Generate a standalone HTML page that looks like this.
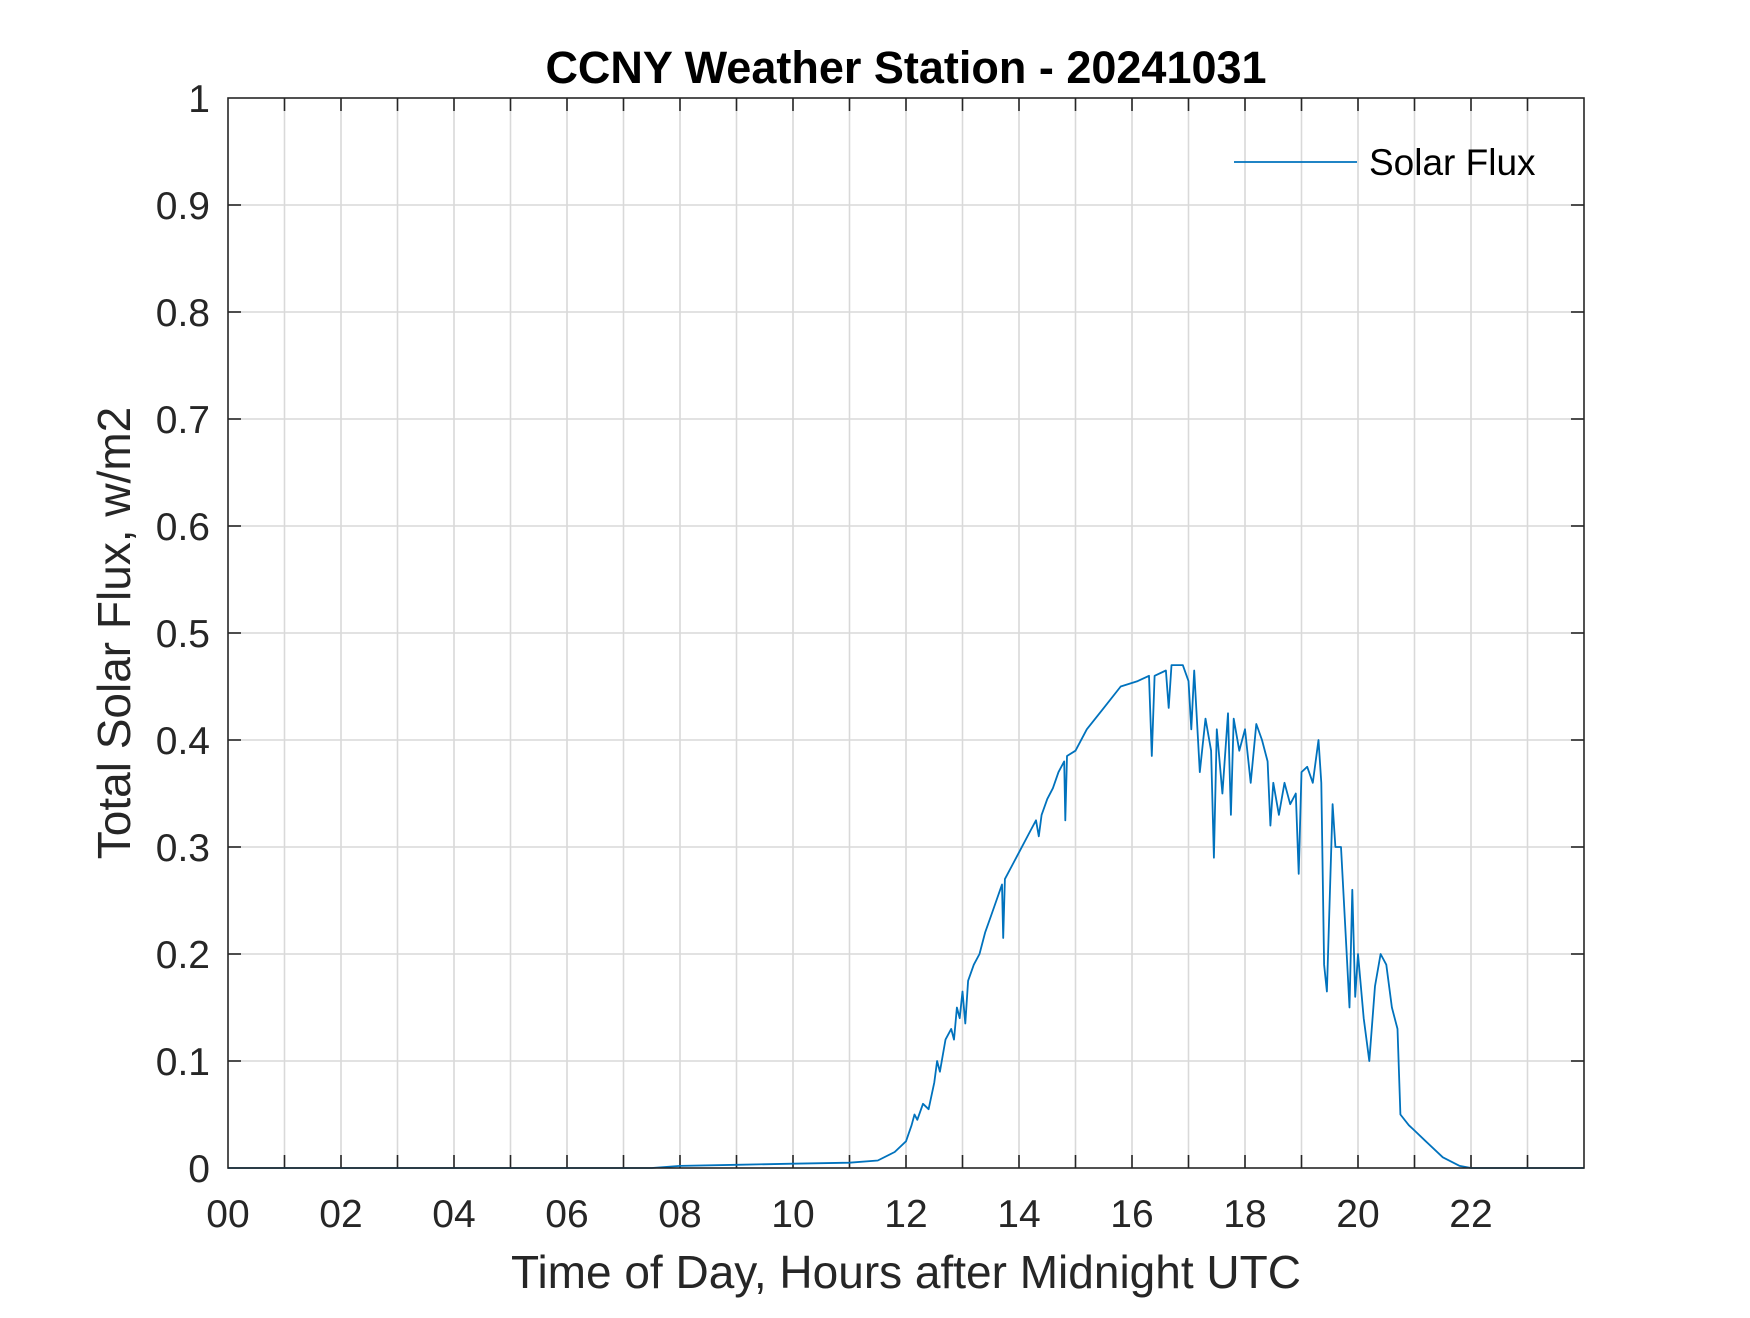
<!DOCTYPE html>
<html><head><meta charset="utf-8"><style>
html,body{margin:0;padding:0;background:#fff;}
svg text{font-family:"Liberation Sans",Arial,sans-serif;fill:#262626;}
</style></head><body>
<svg id="chart" width="1750" height="1313" viewBox="0 0 1750 1313" xmlns="http://www.w3.org/2000/svg">
<rect width="1750" height="1313" fill="#fff"/>
<g id="grid"></g>
<g id="ticks"></g>
<path id="series" fill="none" stroke="#0072BD" stroke-width="1.8" stroke-linejoin="round"/>
<rect x="228" y="98" width="1356" height="1070" fill="none" stroke="#262626" stroke-width="1.6"/>
<text x="906" y="83" text-anchor="middle" font-size="45" font-weight="bold" style="fill:#000">CCNY Weather Station - 20241031</text>
<text x="906" y="1288" text-anchor="middle" font-size="46">Time of Day, Hours after Midnight UTC</text>
<text transform="translate(130,633) rotate(-90)" text-anchor="middle" font-size="46">Total Solar Flux, w/m2</text>
<g>
<line x1="1234" y1="162" x2="1357" y2="162" stroke="#0072BD" stroke-width="1.8"/>
<text x="1369" y="175" font-size="37" style="fill:#000">Solar Flux</text>
</g>
</svg>
<script>
const hours = [0,7.5,8,9,10,11,11.5,11.8,12.0,12.1,12.15,12.2,12.3,12.4,12.5,12.55,12.6,12.7,12.8,12.85,12.9,12.95,13.0,13.05,13.1,13.2,13.3,13.4,13.5,13.6,13.7,13.72,13.75,13.9,14.0,14.2,14.3,14.35,14.4,14.5,14.6,14.7,14.8,14.82,14.85,15.0,15.2,15.5,15.8,16.1,16.3,16.35,16.4,16.6,16.65,16.7,16.9,17.0,17.05,17.1,17.2,17.3,17.4,17.45,17.5,17.6,17.7,17.75,17.8,17.9,18.0,18.1,18.2,18.3,18.4,18.45,18.5,18.6,18.7,18.8,18.9,18.95,19.0,19.1,19.2,19.3,19.35,19.4,19.45,19.55,19.6,19.7,19.8,19.85,19.9,19.95,20.0,20.1,20.2,20.3,20.4,20.5,20.6,20.7,20.75,20.9,21.0,21.2,21.5,21.8,22.0,24];
const flux = [0,0,0.002,0.003,0.004,0.005,0.007,0.015,0.025,0.04,0.05,0.045,0.06,0.055,0.08,0.1,0.09,0.12,0.13,0.12,0.15,0.14,0.165,0.135,0.175,0.19,0.2,0.22,0.235,0.25,0.265,0.215,0.27,0.285,0.295,0.315,0.325,0.31,0.33,0.345,0.355,0.37,0.38,0.325,0.385,0.39,0.41,0.43,0.45,0.455,0.46,0.385,0.46,0.465,0.43,0.47,0.47,0.455,0.41,0.465,0.37,0.42,0.39,0.29,0.41,0.35,0.425,0.33,0.42,0.39,0.41,0.36,0.415,0.4,0.38,0.32,0.36,0.33,0.36,0.34,0.35,0.275,0.37,0.375,0.36,0.4,0.36,0.19,0.165,0.34,0.3,0.3,0.2,0.15,0.26,0.16,0.2,0.14,0.1,0.17,0.2,0.19,0.15,0.13,0.05,0.04,0.035,0.025,0.01,0.002,0,0];
const xTickLabels = ["00","02","04","06","08","10","12","14","16","18","20","22"];
const yTickLabels = ["0","0.1","0.2","0.3","0.4","0.5","0.6","0.7","0.8","0.9","1"];
const X0=228,X1=1584,Y0=1168,Y1=98;
const xs = h => X0 + (h/24)*(X1-X0);
const ys = v => Y0 - v*(Y0-Y1);
const NS="http://www.w3.org/2000/svg";
const grid=document.getElementById('grid'), ticks=document.getElementById('ticks');
function mk(tag,attrs,parent){const e=document.createElementNS(NS,tag);for(const k in attrs)e.setAttribute(k,attrs[k]);parent.appendChild(e);return e;}
for(let h=1;h<24;h++){
  const x=xs(h);
  const g=mk('line',{x1:x,y1:Y1,x2:x,y2:Y0,stroke:'#d9d9d9','stroke-width':1.6},grid);
  
  
  const t1=mk('line',{x1:x,y1:Y0,x2:x,y2:Y0-13,stroke:'#262626','stroke-width':1.6},ticks);
  
  
  const t2=mk('line',{x1:x,y1:Y1,x2:x,y2:Y1+13,stroke:'#262626','stroke-width':1.6},ticks);
  
  
}
xTickLabels.forEach((s,i)=>{
  const t=mk('text',{x:xs(i*2),y:1227,'text-anchor':'middle','font-size':39},ticks);
  t.textContent=s;
  
  
});
yTickLabels.forEach((s,i)=>{
  const v=i/10,y=ys(v);
  if(i>0&&i<10){
    const g=mk('line',{x1:X0,y1:y,x2:X1,y2:y,stroke:'#d9d9d9','stroke-width':1.6},grid);
    
    
    const a=mk('line',{x1:X0,y1:y,x2:X0+13,y2:y,stroke:'#262626','stroke-width':1.6},ticks);
    
    
    const b=mk('line',{x1:X1,y1:y,x2:X1-13,y2:y,stroke:'#262626','stroke-width':1.6},ticks);
    
    
  }
  const t=mk('text',{x:210,y:y+14,'text-anchor':'end','font-size':39},ticks);
  t.textContent=s;
  
  
});
document.getElementById('series').setAttribute('d',hours.map((h,i)=>(i?'L':'M')+xs(h).toFixed(1)+','+ys(flux[i]).toFixed(1)).join(''));
</script>
</body></html>
